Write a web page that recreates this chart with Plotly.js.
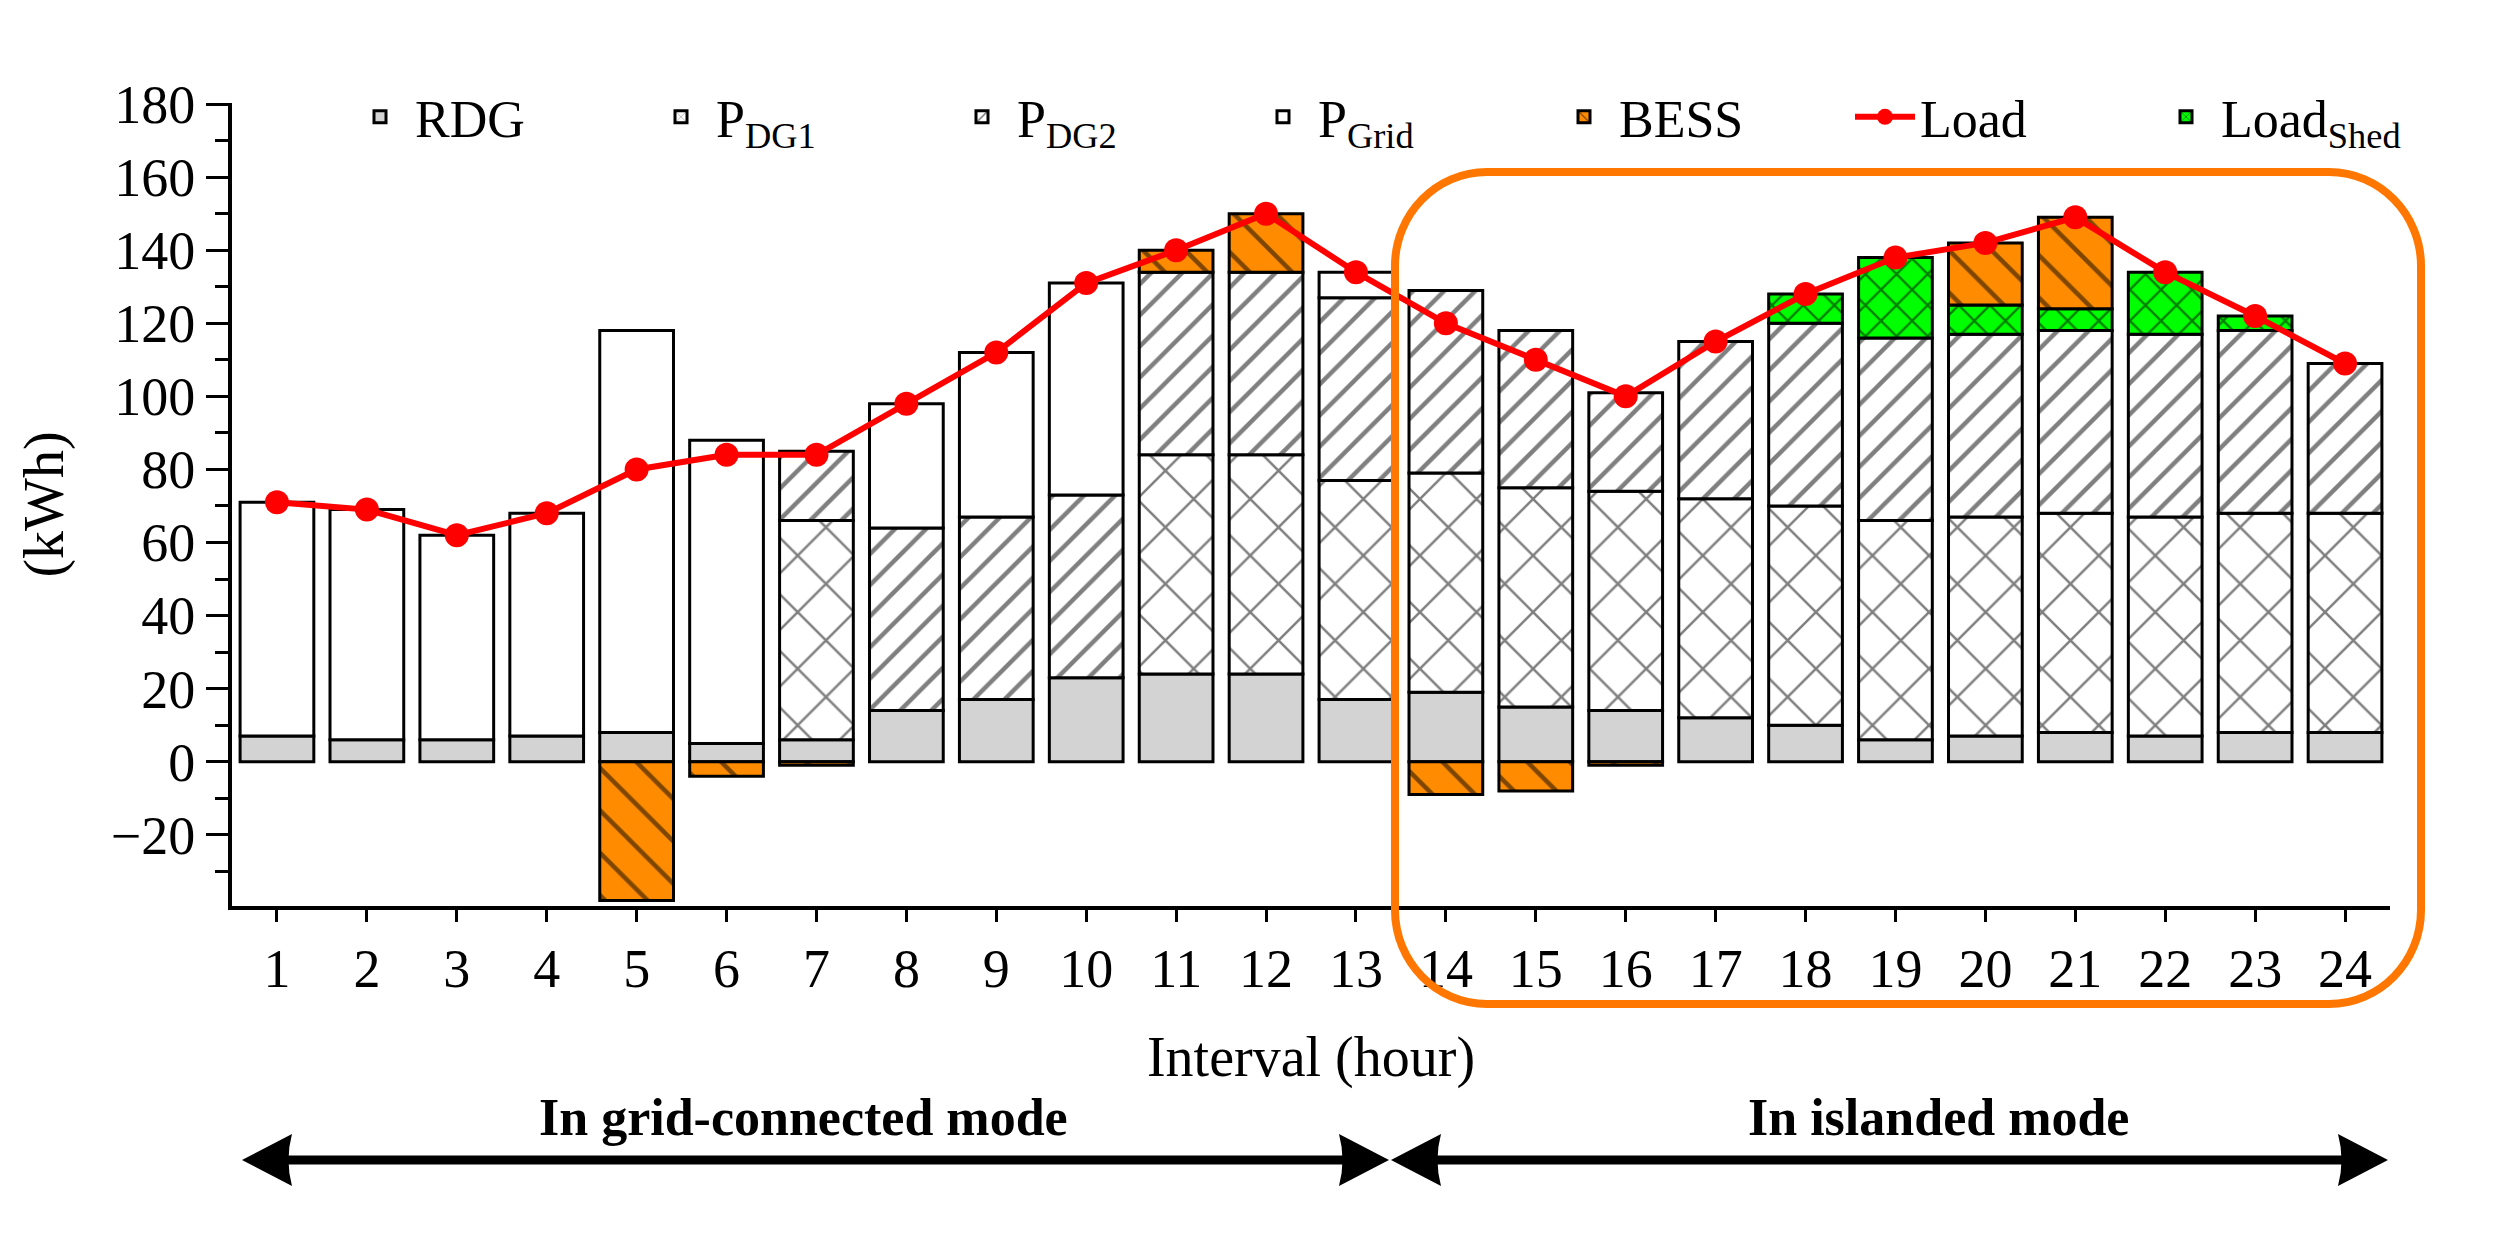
<!DOCTYPE html>
<html><head><meta charset="utf-8">
<script src="https://cdn.plot.ly/plotly-3.0.1.min.js"></script>
<style>html,body{margin:0;padding:0;background:#fff}#chart{width:2510px;height:1239px}</style>
</head><body><div id="chart"></div>
<script>
// ---- data ----
const hours = [1,2,3,4,5,6,7,8,9,10,11,12,13,14,15,16,17,18,19,20,21,22,23,24];
const rdg   = [7,6,6,7,8,5,6,14,17,23,24,24,17,19,15,14,12,10,6,7,8,7,8,8];
const pDG1  = [null,null,null,null,null,null,60,null,null,null,60,60,60,60,60,60,60,60,60,60,60,60,60,60];
const pDG2  = [null,null,null,null,null,null,19,50,50,50,50,50,50,50,43,27,43,50,50,50,50,50,50,41];
const pGrid = [64,63,56,61,110,83,null,34,45,58,null,null,7,null,null,null,null,null,null,null,null,null,null,null];
const loadShed = [null,null,null,null,null,null,null,null,null,null,null,null,null,null,null,null,null,8,22,8,6,17,4,null];
const bess  = [null,null,null,null,-38,-4,-1,null,null,null,6,16,null,-9,-8,-1,null,null,null,17,25,null,null,null];
const load  = [71,69,62,68,80,84,84,98,112,131,140,150,134,120,110,100,115,128,138,142,149,134,122,109];
const seriesNames = ['RDG','P<sub>DG1</sub>','P<sub>DG2</sub>','P<sub>Grid</sub>','BESS','Load','Load<sub>Shed</sub>'];
const modeLabels = ['In grid-connected mode','In islanded mode'];

// ---- layout geometry (pixels) ----
const W = 2510, H = 1239;
const PL = 232, PR = 2390, PT = 103, PB = 906;
const px = X => (X - PL) / (PR - PL);
const py = Y => (PB - Y) / (PB - PT);
const FONT = 'Liberation Serif, Times New Roman, serif';

const barLine = {color:'#000', width:3};
const bw = 0.82;
function barTrace(y, name, rank, color, pattern){
  const m = {color: color, line: barLine};
  if (pattern) m.pattern = pattern;
  return {type:'bar', x:hours, y:y, name:name, legendrank:rank, width:bw, marker:m, hoverinfo:'x+y+name'};
}
const traces = [
  barTrace(rdg, seriesNames[0], 1, '#d3d3d3'),
  barTrace(pDG1, seriesNames[1], 2, '#ffffff', {shape:'x', size:40, solidity:0.12, fgcolor:'#000', bgcolor:'#fff', fillmode:'overlay'}),
  barTrace(pDG2, seriesNames[2], 3, '#ffffff', {shape:'/', size:22, solidity:0.2, fgcolor:'#000', bgcolor:'#fff', fillmode:'overlay'}),
  barTrace(pGrid, seriesNames[3], 4, '#ffffff'),
  barTrace(loadShed, seriesNames[6], 7, '#00ff00', {shape:'x', size:22, solidity:0.2, fgcolor:'#000', bgcolor:'#00ff00', fillmode:'overlay'}),
  barTrace(bess, seriesNames[4], 5, '#ff8c00', {shape:'\\', size:30, solidity:0.15, fgcolor:'#000', bgcolor:'#ff8c00', fillmode:'overlay'}),
  {type:'scatter', mode:'lines+markers', x:hours, y:load, name:seriesNames[5], legendrank:6,
   line:{color:'#ff0000', width:6}, marker:{color:'#ff0000', size:24}}
];

// rounded orange box
function roundRect(L,T,R,B,rx,ry){
  const k = 0.5523;
  const p = (X,Y) => px(X).toFixed(5)+','+py(Y).toFixed(5);
  return 'M'+p(L+rx,T)+' L'+p(R-rx,T)+
    ' C'+p(R-rx+k*rx,T)+' '+p(R,T+ry-k*ry)+' '+p(R,T+ry)+
    ' L'+p(R,B-ry)+
    ' C'+p(R,B-ry+k*ry)+' '+p(R-rx+k*rx,B)+' '+p(R-rx,B)+
    ' L'+p(L+rx,B)+
    ' C'+p(L+rx-k*rx,B)+' '+p(L,B-ry+k*ry)+' '+p(L,B-ry)+
    ' L'+p(L,T+ry)+
    ' C'+p(L,T+ry-k*ry)+' '+p(L+rx-k*rx,T)+' '+p(L+rx,T)+' Z';
}
function head(tipX, Y, dir){
  const p = (X,YY) => px(X).toFixed(5)+','+py(YY).toFixed(5);
  const back = tipX + dir*50, notch = tipX + dir*43;
  return 'M'+p(tipX,Y)+' L'+p(back,Y-26)+' Q'+p(notch,Y)+' '+p(back,Y+26)+' Z';
}
const AY = 1160;
const shapes = [
  {type:'path', xref:'paper', yref:'paper', path:roundRect(1395,172,2421,1004,92,94),
   line:{color:'#ff7700', width:8}, layer:'above'},
  {type:'line', xref:'paper', yref:'paper', x0:px(280), x1:px(1350), y0:py(AY), y1:py(AY), line:{color:'#000', width:9}},
  {type:'line', xref:'paper', yref:'paper', x0:px(1430), x1:px(2350), y0:py(AY), y1:py(AY), line:{color:'#000', width:9}},
  {type:'path', xref:'paper', yref:'paper', path:head(242,AY,1), fillcolor:'#000', line:{width:0}},
  {type:'path', xref:'paper', yref:'paper', path:head(1389,AY,-1), fillcolor:'#000', line:{width:0}},
  {type:'path', xref:'paper', yref:'paper', path:head(1391,AY,1), fillcolor:'#000', line:{width:0}},
  {type:'path', xref:'paper', yref:'paper', path:head(2388,AY,-1), fillcolor:'#000', line:{width:0}}
];

const annotations = [
  {xref:'paper', yref:'paper', x:px(803), y:py(1117), text:modeLabels[0], showarrow:false,
   font:{family:FONT, size:52, color:'#000', weight:'bold'}, xanchor:'center', yanchor:'middle'},
  {xref:'paper', yref:'paper', x:px(1938), y:py(1117), text:modeLabels[1], showarrow:false,
   font:{family:FONT, size:52, color:'#000', weight:'bold'}, xanchor:'center', yanchor:'middle'}
];

const layout = {
  width:W, height:H,
  margin:{l:PL, r:W-PR, t:PT, b:H-PB},
  paper_bgcolor:'#fff', plot_bgcolor:'#fff',
  barmode:'relative', bargap:0.18,
  font:{family:FONT, size:54, color:'#000'},
  showlegend:true,
  legend:{orientation:'h', x:px(345), y:py(117), xanchor:'left', yanchor:'middle',
          entrywidth:226, entrywidthmode:'pixels', bgcolor:'rgba(0,0,0,0)',
          font:{family:FONT, size:52, color:'#000'}, traceorder:'normal', itemwidth:60},
  xaxis:{range:[0.5,24.5], tick0:1, dtick:1, ticks:'outside', ticklen:12, tickwidth:3, tickcolor:'#000',
         showline:true, linewidth:4, linecolor:'#000', showgrid:false, zeroline:false,
         tickfont:{family:FONT, size:54},
         title:{text:'Interval (hour)', font:{family:FONT, size:56}, standoff:40}},
  xaxis2:{range:[0.5,24.5], overlaying:'x', anchor:'y', side:'bottom', tickvals:[1,6,11,16,21],
          ticks:'outside', ticklen:23, tickwidth:3, tickcolor:'#000', showticklabels:false,
          showline:false, showgrid:false, zeroline:false},
  yaxis:{range:[-39.5,180.3], tick0:0, dtick:20, ticks:'outside', ticklen:22, tickwidth:3, tickcolor:'#000',
         minor:{dtick:10, tick0:0, ticks:'outside', ticklen:13, tickwidth:3, tickcolor:'#000'},
         showline:true, linewidth:4, linecolor:'#000', showgrid:false, zeroline:false,
         tickfont:{family:FONT, size:54},
         title:{text:'(kWh)', font:{family:FONT, size:56}, standoff:30}},
  shapes:shapes,
  annotations:annotations
};

Plotly.newPlot('chart', traces, layout, {displayModeBar:false, staticPlot:true});
</script>
</body></html>
